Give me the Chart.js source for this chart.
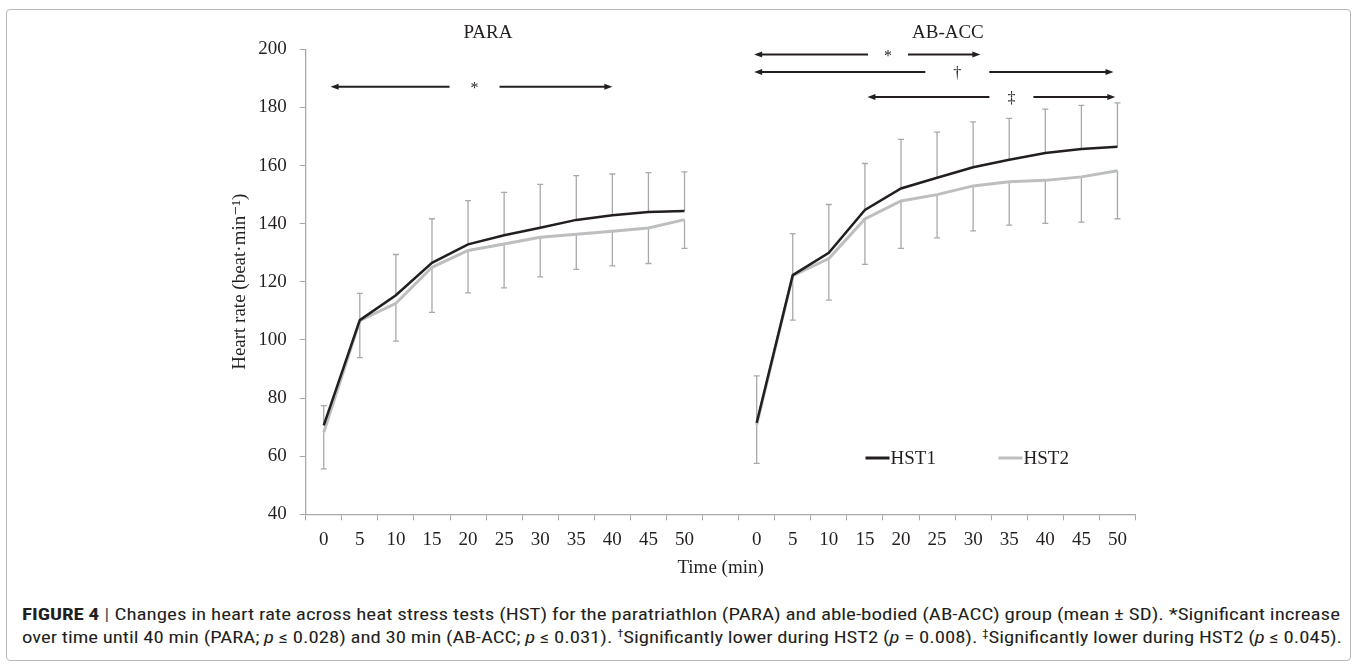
<!DOCTYPE html>
<html>
<head>
<meta charset="utf-8">
<script src="https://cdn.jsdelivr.net/npm/chart.js@4.4.1/dist/chart.umd.min.js"></script>
<style>
  body { margin: 0; background: #fff; width: 1357px; height: 666px; overflow: hidden; position: relative; }
  #frame { position: absolute; left: 6px; top: 9px; width: 1345px; height: 652px; border: 1.5px solid #b9b9b9; border-radius: 4px; box-sizing: border-box; }
  #chart { position: absolute; left: 0; top: 0; }
  .cap { position: absolute; left: 22px; white-space: nowrap; font-family: "Liberation Sans Narrow", "Roboto Condensed", "Liberation Sans", sans-serif; font-size: 16.5px; color: #231f20; transform-origin: 0 0; }
  .cap b { font-weight: bold; }
  .cap .bar { color: #555; padding: 0 4px; }
  .cap sup { font-size: 10px; vertical-align: 6px; line-height: 0; }
</style>
</head>
<body>
<div id="frame"></div>
<canvas id="chart" width="1357" height="590"></canvas>
<div class="cap" id="cap1" style="top:605px"><b>FIGURE 4</b><span class="bar">|</span>Changes in heart rate across heat stress tests (HST) for the paratriathlon (PARA) and able-bodied (AB-ACC) group (mean ± SD). *Significant increase</div>
<div class="cap" id="cap2" style="top:628px">over time until 40 min (PARA; <i>p</i> ≤ 0.028) and 30 min (AB-ACC; <i>p</i> ≤ 0.031). <sup>†</sup>Significantly lower during HST2 (<i>p</i> = 0.008). <sup>‡</sup>Significantly lower during HST2 (<i>p</i> ≤ 0.045).</div>
<script>
// time points of each group, one empty slot between the two groups
const minutes = ["0", "5", "10", "15", "20", "25", "30", "35", "40", "45", "50"];
const timeLabels = [...minutes, "", ...minutes];

const groupNames = ["PARA", "AB-ACC"];

// heart rate means (beat/min)
const paraHst1 = [70.6, 106.8, 115.4, 126.5, 132.9, 136.0, 138.6, 141.3, 142.9, 144.0, 144.4];
const paraHst2 = [68.2, 106.6, 112.6, 125.0, 130.8, 133.0, 135.3, 136.4, 137.4, 138.5, 141.4];
const abHst1 = [71.5, 122.3, 130.0, 144.7, 152.1, 155.8, 159.4, 162.0, 164.3, 165.7, 166.5];
const abHst2 = [70.8, 122.1, 128.0, 141.6, 147.8, 150.0, 153.0, 154.4, 154.9, 156.1, 158.2];

// SD: HST1 drawn upward, HST2 drawn downward
const paraSd1 = [6.8, 9.2, 14.0, 15.2, 15.0, 14.8, 14.9, 15.2, 14.2, 13.6, 13.4];
const paraSd2 = [12.6, 12.7, 13.0, 15.5, 14.6, 15.1, 13.6, 12.1, 11.9, 12.2, 9.9];
const abSd1 = [16.1, 14.3, 16.6, 16.0, 16.9, 15.7, 15.6, 14.2, 15.1, 15.0, 15.1];
const abSd2 = [13.3, 15.3, 14.3, 15.6, 16.3, 14.9, 15.5, 14.9, 14.8, 15.6, 16.5];

const yTicks = [40, 60, 80, 100, 120, 140, 160, 180, 200];

// significance arrows: from/to in category index, y in beat/min
const sigArrows = [
  { from: 0.19, to: 8.0, y: 187.1, mark: "*", at: 4.18, gap: 25 },
  { from: 11.93, to: 18.2, y: 198.2, mark: "*", at: 15.64, gap: 20 },
  { from: 11.93, to: 21.89, y: 192.2, mark: "†", at: 17.56, gap: 32 },
  { from: 15.07, to: 21.94, y: 183.6, mark: "‡", at: 19.06, gap: 22 }
];

const hst1 = [...paraHst1, null, ...abHst1];
const hst2 = [...paraHst2, null, ...abHst2];
const sd1 = [...paraSd1, null, ...abSd1];
const sd2 = [...paraSd2, null, ...abSd2];

const ink = "#231f20";
const serif = "'Liberation Serif', 'DejaVu Serif', serif";

const errorBars = {
  id: "errorBars",
  beforeDatasetsDraw(chart) {
    const { ctx, scales: { x, y } } = chart;
    ctx.save();
    ctx.strokeStyle = "#a7a9ac";
    ctx.lineWidth = 1.3;
    const draw = (means, sds, dir) => {
      means.forEach((m, i) => {
        if (m == null) return;
        const px = x.getPixelForValue(i);
        const y0 = y.getPixelForValue(m);
        const y1 = y.getPixelForValue(m + dir * sds[i]);
        ctx.beginPath();
        ctx.moveTo(px, y0);
        ctx.lineTo(px, y1);
        ctx.moveTo(px - 3, y1);
        ctx.lineTo(px + 3, y1);
        ctx.stroke();
      });
    };
    draw(hst1, sd1, 1);
    draw(hst2, sd2, -1);
    ctx.restore();
  }
};

const annotations = {
  id: "annotations",
  afterDraw(chart) {
    const { ctx, scales: { x, y }, chartArea } = chart;
    ctx.save();
    ctx.fillStyle = ink;
    ctx.strokeStyle = ink;
    ctx.textAlign = "center";
    ctx.textBaseline = "middle";

    // group titles
    ctx.font = "19px " + serif;
    ctx.fillText(groupNames[0], x.getPixelForValue(4.55), 33);
    ctx.fillText(groupNames[1], x.getPixelForValue(17.3), 33);

    // arrows
    sigArrows.forEach(a => {
      const x0 = x.getPixelForValue(a.from);
      const x1 = x.getPixelForValue(a.to);
      const xm = x.getPixelForValue(a.at);
      const py = y.getPixelForValue(a.y);
      ctx.lineWidth = 2;
      ctx.beginPath();
      ctx.moveTo(x0 + 6, py);
      ctx.lineTo(xm - a.gap, py);
      ctx.moveTo(xm + a.gap, py);
      ctx.lineTo(x1 - 6, py);
      ctx.stroke();
      ctx.beginPath();
      ctx.moveTo(x0, py);
      ctx.lineTo(x0 + 8, py - 3);
      ctx.lineTo(x0 + 8, py + 3);
      ctx.closePath();
      ctx.moveTo(x1, py);
      ctx.lineTo(x1 - 8, py - 3);
      ctx.lineTo(x1 - 8, py + 3);
      ctx.closePath();
      ctx.fill();
      ctx.font = "16px " + serif;
      ctx.fillText(a.mark, xm, py + 2);
    });

    // legend
    ctx.font = "19px " + serif;
    ctx.textAlign = "left";
    const ly = 458;
    let lx = chartArea.right - 270;
    chart.data.datasets.forEach(ds => {
      ctx.strokeStyle = ds.borderColor;
      ctx.lineWidth = 3;
      ctx.beginPath();
      ctx.moveTo(lx, ly);
      ctx.lineTo(lx + 24, ly);
      ctx.stroke();
      ctx.fillStyle = ink;
      ctx.fillText(ds.label, lx + 25, ly + 1);
      lx += 133;
    });
    ctx.restore();
  }
};

new Chart(document.getElementById("chart"), {
  type: "line",
  data: {
    labels: timeLabels,
    datasets: [
      {
        label: "HST1",
        data: hst1,
        borderColor: ink,
        borderWidth: 2.5,
        pointRadius: 0,
        tension: 0,
        order: 1
      },
      {
        label: "HST2",
        data: hst2,
        borderColor: "#bcbec0",
        borderWidth: 3,
        pointRadius: 0,
        tension: 0,
        order: 2
      }
    ]
  },
  options: {
    responsive: false,
    animation: false,
    layout: { padding: { left: 0, right: 221.5, top: 49.3, bottom: 0 } },
    plugins: {
      legend: { display: false },
      tooltip: { enabled: false }
    },
    scales: {
      x: {
        offset: true,
        grid: { offset: true, drawOnChartArea: false, tickLength: 6, color: "#a7a9ac" },
        border: { color: "#a7a9ac", width: 1.3 },
        ticks: { color: ink, font: { family: serif, size: 19 }, padding: 8, maxRotation: 0, autoSkip: false },
        title: { display: true, text: "Time (min)", color: ink, font: { family: serif, size: 19 }, padding: { top: 0, bottom: 10.6 } },
        afterFit(scale) { scale.height = 75.7; }
      },
      y: {
        min: 40,
        max: 200,
        afterBuildTicks(scale) { scale.ticks = yTicks.map(v => ({ value: v })); },
        grid: { drawOnChartArea: false, tickLength: 6, color: "#a7a9ac" },
        border: { color: "#a7a9ac", width: 1.3 },
        ticks: { color: ink, font: { family: serif, size: 19 }, padding: 13 },
        title: { display: true, text: "Heart rate (beat·min⁻¹)", color: ink, font: { family: serif, size: 19 }, padding: { top: 228.6, bottom: 0 } },
        afterFit(scale) { scale.width = 305.7; }
      }
    }
  },
  plugins: [errorBars, annotations]
});

// fit caption lines to the figure width
["cap1", "cap2"].forEach((id, i) => {
  const el = document.getElementById(id);
  const target = i === 0 ? 1318 : 1320;
  el.style.transform = "scaleX(" + (target / el.getBoundingClientRect().width) + ")";
});
</script>
</body>
</html>
